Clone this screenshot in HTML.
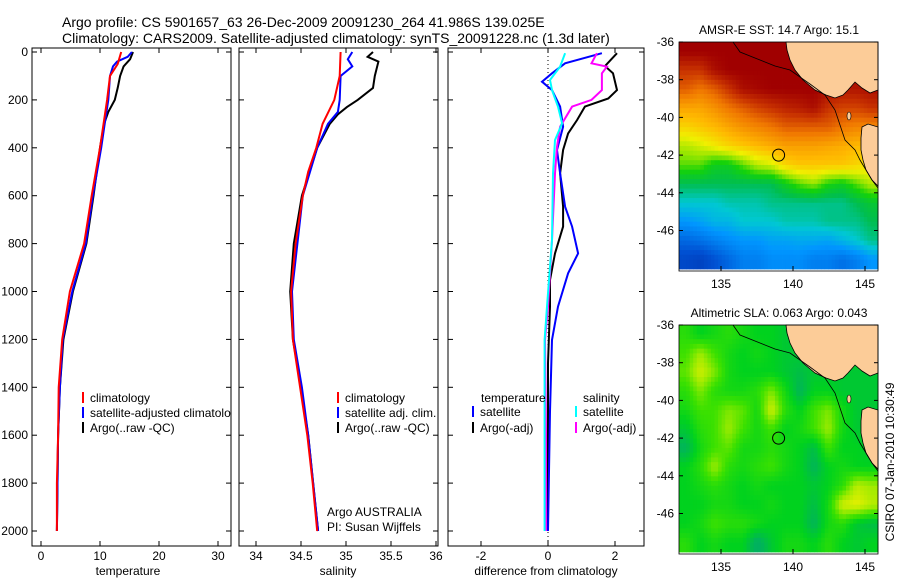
<!DOCTYPE html>
<html><head><meta charset="utf-8"><style>
body{margin:0;background:#fff;}
svg{display:block;font-family:"Liberation Sans",sans-serif;}
</style></head><body>
<svg id="fig" width="900" height="580" viewBox="0 0 900 580">
<rect width="900" height="580" fill="#fff"/>
<text x="62" y="27" font-size="14">Argo profile: CS 5901657_63 26-Dec-2009 20091230_264 41.986S 139.025E</text>
<text x="62" y="43" font-size="14">Climatology: CARS2009. Satellite-adjusted climatology: synTS_20091228.nc (1.3d later)</text>
<g id="g"></g>
</svg>
<script>
// ---------- data ----------
var depthTicks=[0,200,400,600,800,1000,1200,1400,1600,1800,2000];
var tempTicks=[0,10,20,30];
var salTicks=[34,34.5,35,35.5,36];
var diffTicks=[-2,0,2];
var lonTicks=[135,140,145];
var latTicks=[-36,-38,-40,-42,-44,-46];

var tClimD=[0,50,100,200,400,600,800,1000,1200,1400,1600,1800,2000];
var tClimV=[13.6,13,11.7,11.2,10,8.6,7.3,4.9,3.6,3,2.9,2.7,2.7];
var tSatD=[0,20,40,60,100,200,300,400,600,800,1000,1200,1400,1600,2000];
var tSatV=[15.4,14.7,12.9,12.2,11.7,11.4,10.8,10.2,8.8,7.6,5.3,3.7,3.2,2.9,2.7];
var tArgD=[0,30,60,100,150,200,250,300,400,600,800,1000,1200,1400,1600,2000];
var tArgV=[15.6,15.1,14,13.4,13,12.5,11.4,10.7,10,8.9,7.7,5.4,3.8,3.2,2.9,2.7];

var sClimD=[0,100,200,300,400,500,600,800,1000,1200,1400,1600,1800,2000];
var sClimV=[34.94,34.93,34.87,34.74,34.67,34.58,34.52,34.44,34.39,34.41,34.49,34.57,34.63,34.68];
var sSatD=[0,30,60,100,200,250,300,400,500,600,800,1000,1200,1400,1600,2000];
var sSatV=[35.07,35.02,35.07,34.94,34.93,34.91,34.8,34.68,34.6,34.52,34.46,34.4,34.42,34.51,34.58,34.69];
var sArgD=[0,20,40,100,150,200,230,260,300,400,600,800,1000,1200,1400,1600,2000];
var sArgV=[35.3,35.24,35.36,35.32,35.3,35.13,35.01,34.91,34.82,34.68,34.51,34.42,34.38,34.41,34.5,34.58,34.69];

var dTSatD=[5,47,89,124,159,228,312,409,507,646,729,841,924,1063,1202,1500,2000];
var dTSatV=[1.61,0.51,0.12,-0.18,0.12,0.36,0.45,0.27,0.36,0.51,0.72,0.9,0.6,0.3,0.12,0.06,0.0];
var dTArgD=[5,59,89,159,194,228,284,340,409,507,646,729,841,952,1063,1300,2000];
var dTArgV=[2.06,1.7,1.94,2.06,1.8,1.1,0.87,0.6,0.45,0.36,0.45,0.45,0.21,0.06,0.06,0.0,0.0];
var dSSatD=[5,61,117,159,228,298,368,507,785,1063,1202,1600,2000];
var dSSatV=[0.51,0.36,0.06,0.12,0.3,0.42,0.21,0.15,0.12,-0.03,-0.1,-0.1,-0.1];
var dSArgD=[5,47,61,89,159,200,228,256,312,396,507,785,1063,1202,1600,2000];
var dSArgV=[1.46,1.3,1.76,1.61,1.61,1.3,0.72,0.6,0.36,0.27,0.21,0.12,0.0,-0.09,-0.06,-0.06];

var sstGrid=[
[.97,.97,.97,.97,.97,.97,.97,.97,.97,.97,.97,.97,.97,.97],
[.9,.9,.95,.97,.97,.97,.97,.97,.97,.97,.97,.97,.97,.97],
[.85,.82,.85,.9,.95,.96,.97,.97,.97,.97,.95,.94,.94,.95],
[.75,.75,.78,.82,.85,.88,.9,.92,.93,.95,.9,.88,.88,.9],
[.68,.7,.72,.75,.78,.8,.82,.85,.85,.85,.85,.82,.8,.8],
[.6,.62,.65,.68,.7,.72,.74,.76,.76,.76,.75,.74,.72,.72],
[.55,.55,.5,.5,.55,.6,.62,.68,.7,.7,.7,.7,.68,.66],
[.45,.45,.45,.45,.45,.45,.45,.5,.55,.58,.52,.5,.55,.6],
[.38,.38,.38,.4,.4,.4,.42,.42,.42,.42,.42,.42,.45,.48],
[.3,.32,.35,.35,.38,.38,.38,.4,.4,.4,.42,.42,.42,.45],
[.2,.22,.25,.28,.3,.3,.32,.32,.33,.33,.32,.35,.38,.42],
[.12,.1,.15,.2,.25,.25,.28,.28,.28,.25,.25,.22,.25,.3]];
var slaGrid=[
[.55,.45,.5,.55,.5,.45,.45,.4,.4,.4,.4,.4,.4,.4],
[.6,.75,.6,.5,.45,.5,.45,.4,.4,.4,.4,.4,.4,.4],
[.65,.85,.7,.5,.45,.45,.45,.4,.35,.4,.4,.4,.4,.4],
[.55,.7,.55,.5,.5,.55,.7,.5,.3,.45,.45,.4,.4,.4],
[.5,.6,.6,.7,.65,.5,.85,.55,.45,.6,.7,.5,.4,.4],
[.4,.55,.6,.75,.6,.5,.6,.45,.5,.6,.75,.5,.4,.4],
[.3,.5,.6,.65,.5,.5,.55,.5,.45,.35,.6,.45,.45,.4],
[.45,.55,.75,.55,.5,.55,.6,.5,.45,.3,.45,.5,.45,.45],
[.45,.5,.55,.5,.45,.5,.45,.45,.45,.4,.45,.55,.8,.75],
[.45,.45,.5,.5,.45,.45,.5,.45,.45,.35,.5,.85,.9,.8],
[.45,.5,.6,.55,.55,.5,.45,.45,.45,.3,.5,.55,.4,.35],
[.55,.45,.5,.45,.45,.25,.4,.5,.5,.45,.55,.45,.4,.45]];
var argoLon=139.0, argoLat=-42.0;

// ---------- helpers ----------
var NS="http://www.w3.org/2000/svg";
var G=document.getElementById('g');
function mk(tag,attrs,parent){var e=document.createElementNS(NS,tag);for(var k in attrs)e.setAttribute(k,attrs[k]);(parent||G).appendChild(e);return e;}
function dy(d){return 52+d*0.2395;}
var panels=[
 {x0:32,x1:231,fx:function(v){return 41+v*5.9;},ticks:tempTicks,lab:'temperature',lx:128,nm:'temperature-panel'},
 {x0:239,x1:438,fx:function(v){return 256+(v-34)*90;},ticks:salTicks,lab:'salinity',lx:338,nm:'salinity-panel'},
 {x0:448,x1:644,fx:function(v){return 548+v*33.5;},ticks:diffTicks,lab:'difference from climatology',lx:546,nm:'difference-panel'}];
var PT=48,PB=546;
panels.forEach(function(p,pi){
 var g=mk('g',{});
 
 
 mk('rect',{x:p.x0,y:PT,width:p.x1-p.x0,height:PB-PT,fill:'none',stroke:'#000','stroke-width':1},g);
 depthTicks.forEach(function(d){var y=dy(d);
  mk('line',{x1:p.x0,x2:p.x0+5,y1:y,y2:y,stroke:'#000'},g);
  mk('line',{x1:p.x1,x2:p.x1-5,y1:y,y2:y,stroke:'#000'},g);
  if(pi==0){var t=mk('text',{x:28,y:y+4,'font-size':12,'text-anchor':'end'},g);t.textContent=d;
   
   }
 });
 p.ticks.forEach(function(v){var x=p.fx(v);
  mk('line',{x1:x,x2:x,y1:PT,y2:PT+5,stroke:'#000'},g);
  mk('line',{x1:x,x2:x,y1:PB,y2:PB-5,stroke:'#000'},g);
  var t=mk('text',{x:x,y:560,'font-size':12,'text-anchor':'middle'},g);t.textContent=v;
  
  
 });
 var t=mk('text',{x:p.lx,y:575,'font-size':12,'text-anchor':'middle'},g);t.textContent=p.lab;
 
 
});
// zero line
var zl=mk('line',{x1:548,x2:548,y1:PT,y2:PB,stroke:'#000','stroke-dasharray':'1,3'});



function prof(D,V,p,col,name){
 var pts=D.map(function(d,i){return p.fx(V[i]).toFixed(1)+','+dy(d).toFixed(1);}).join(' ');
 var l=mk('polyline',{points:pts,fill:'none',stroke:col,'stroke-width':2});
 
 
}
prof(tArgD,tArgV,panels[0],'#000','temp-argo-line');
prof(tSatD,tSatV,panels[0],'#00f','temp-satellite-line');
prof(tClimD,tClimV,panels[0],'#f00','temp-climatology-line');
prof(sArgD,sArgV,panels[1],'#000','sal-argo-line');
prof(sSatD,sSatV,panels[1],'#00f','sal-satellite-line');
prof(sClimD,sClimV,panels[1],'#f00','sal-climatology-line');
prof(dTArgD,dTArgV,panels[2],'#000','diff-temp-argo-line');
prof(dTSatD,dTSatV,panels[2],'#00f','diff-temp-satellite-line');
prof(dSArgD,dSArgV,panels[2],'#f0f','diff-sal-argo-line');
prof(dSSatD,dSSatV,panels[2],'#0ff','diff-sal-satellite-line');

// legends
var clipP=mk('clipPath',{id:'c1'});mk('rect',{x:32,y:48,width:199,height:498},clipP);
function leg(x,y,col,txt,clip){
 var g=mk('g',clip?{'clip-path':'url(#c1)'}:{});
 
 
 if(col)mk('line',{x1:x,x2:x,y1:y-10,y2:y+1,stroke:col,'stroke-width':2},g);
 var t=mk('text',{x:x+(col?7:0),y:y,'font-size':12},g);t.textContent=txt;
}
leg(83,402,'#f00','climatology',true);leg(83,417,'#00f','satellite-adjusted climatology',true);leg(83,432,'#000','Argo(..raw -QC)',true);
leg(338,402,'#f00','climatology');leg(338,417,'#00f','satellite adj. clim.');leg(338,432,'#000','Argo(..raw -QC)');
leg(327,516,null,'Argo AUSTRALIA');leg(327,531,null,'PI: Susan Wijffels');
leg(481,402,null,'temperature');leg(583,402,null,'salinity');
leg(473,416,'#00f','satellite');leg(473,432,'#000','Argo(-adj)');
leg(576,416,'#0ff','satellite');leg(576,432,'#f0f','Argo(-adj)');

// ---------- maps ----------
function lerp(a,b,t){return a+(b-a)*t;}
function cmap(stops,v){
 for(var i=1;i<stops.length;i++){if(v<=stops[i][0]){var a=stops[i-1],b=stops[i],t=(v-a[0])/(b[0]-a[0]);
  return 'rgb('+Math.round(lerp(a[1],b[1],t))+','+Math.round(lerp(a[2],b[2],t))+','+Math.round(lerp(a[3],b[3],t))+')';}}
 var s=stops[stops.length-1];return 'rgb('+s[1]+','+s[2]+','+s[3]+')';
}
var sstStops=[[0,0,40,160],[0.15,0,80,210],[0.3,0,150,255],[0.38,0,200,210],[0.45,0,190,80],[0.52,20,210,10],[0.58,150,230,0],[0.64,240,240,0],[0.72,255,185,0],[0.82,240,120,0],[0.9,200,50,0],[0.97,160,0,0],[1,160,0,0]];
var slaStops=[[0,0,150,140],[0.3,0,180,90],[0.45,0,210,30],[0.6,60,225,0],[0.75,160,235,0],[0.9,230,240,0],[1,240,240,0]];
function drawMap(grid,stops,y0,title,nm){
 var X0=679,X1=878,Y1=y0+227;
 var lx=function(l){return 721+(l-135)*14.4;};
 var ly=function(a){return y0+(-36-a)*18.85;};
 var g=mk('g',{});
 
 
 var R=grid.length,C=grid[0].length,S=4;
 var cw=(X1-X0)/(C*S),ch=(Y1-y0)/(R*S);
 for(var r=0;r<R*S;r++)for(var c=0;c<C*S;c++){
  var fr=(r+0.5)/S-0.5,fc=(c+0.5)/S-0.5;
  var r0=Math.max(0,Math.min(R-1,Math.floor(fr))),c0=Math.max(0,Math.min(C-1,Math.floor(fc)));
  var r1=Math.min(R-1,r0+1),c1=Math.min(C-1,c0+1);
  var tr=Math.max(0,Math.min(1,fr-r0)),tc=Math.max(0,Math.min(1,fc-c0));
  var v=lerp(lerp(grid[r0][c0],grid[r0][c1],tc),lerp(grid[r1][c0],grid[r1][c1],tc),tr);
  var cell=mk('rect',{x:(X0+c*cw).toFixed(2),y:(y0+r*ch).toFixed(2),width:(cw+0.4).toFixed(2),height:(ch+0.4).toFixed(2),fill:cmap(stops,v)},g);
  
  
 }
 var o=y0-42;
 var land=mk('polygon',{fill:'#fccc98',stroke:'#000','stroke-width':0.8,points:[[786,42],[878,42],[878,90],[870,93],[862,88],[855,82],[848,90],[843,95],[835,98],[826,95],[815,90],[803,80],[795,70],[790,60],[787,50]].map(function(p){return p[0]+','+(p[1]+o);}).join(' ')},g);
 
 
 var tas=mk('polygon',{fill:'#fccc98',stroke:'#000','stroke-width':0.8,points:[[862,127],[868,124],[878,127],[878,186],[872,180],[866,170],[863,160],[861,150],[861,138]].map(function(p){return p[0]+','+(p[1]+o);}).join(' ')},g);
 
 
 var ki=mk('ellipse',{cx:849,cy:116+o,rx:2,ry:4,fill:'#fccc98',stroke:'#000','stroke-width':0.6},g);
 
 
 var ct=mk('polyline',{fill:'none',stroke:'#000','stroke-width':0.8,points:[[733,42],[740,52],[760,60],[775,66],[790,70],[810,84],[825,95],[835,110],[840,125],[845,140],[855,150],[860,160],[866,170],[872,180],[878,188]].map(function(p){return p[0]+','+(p[1]+o);}).join(' ')},g);
 
 
 var ci=mk('circle',{cx:lx(argoLon),cy:ly(argoLat),r:6,fill:'none',stroke:'#000','stroke-width':1},g);
 
 
 mk('rect',{x:X0,y:y0,width:X1-X0,height:Y1-y0+2,fill:'none',stroke:'#000','stroke-width':0.8},g);
 lonTicks.forEach(function(l){var x=lx(l);
  mk('line',{x1:x,x2:x,y1:Y1+2,y2:Y1-3,stroke:'#000'},g);
  var t=mk('text',{x:x,y:Y1+19,'font-size':12,'text-anchor':'middle'},g);t.textContent=l;
  
  });
 latTicks.forEach(function(a){var y=ly(a);
  mk('line',{x1:X0,x2:X0+4,y1:y,y2:y,stroke:'#000'},g);
  mk('line',{x1:X1,x2:X1-4,y1:y,y2:y,stroke:'#000'},g);
  var t=mk('text',{x:674,y:y+4,'font-size':12,'text-anchor':'end'},g);t.textContent=a;
  
  });
 var t=mk('text',{x:779,y:y0-8,'font-size':12,'text-anchor':'middle'},g);t.textContent=title;
 
 
}
drawMap(sstGrid,sstStops,42,'AMSR-E SST: 14.7 Argo: 15.1','sst-map');
drawMap(slaGrid,slaStops,325,'Altimetric SLA: 0.063 Argo: 0.043','sla-map');
var st=mk('text',{x:0,y:0,'font-size':12,'text-anchor':'middle',transform:'translate(894,462) rotate(-90)'});
st.textContent='CSIRO 07-Jan-2010 10:30:49';


</script>
</body></html>
